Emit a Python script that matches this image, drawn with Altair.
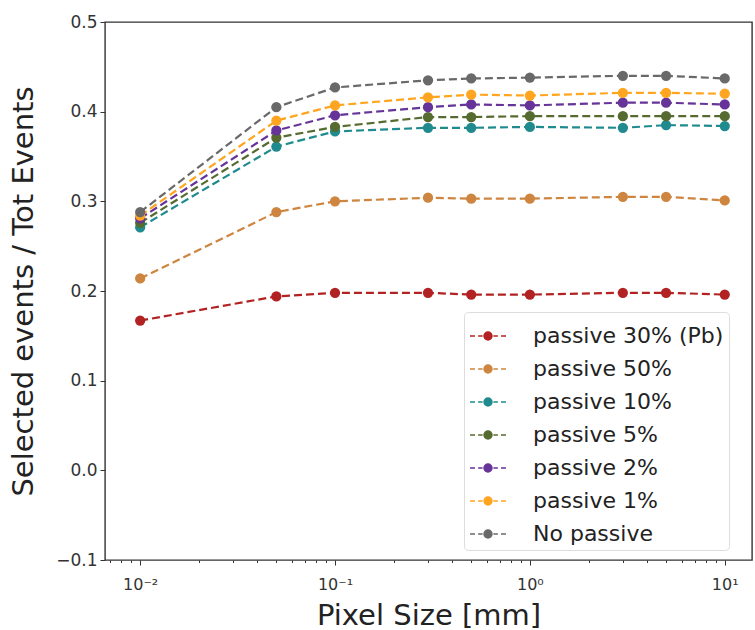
import altair as alt
import pandas as pd

pixel_size = [0.01, 0.05, 0.1, 0.3, 0.5, 1, 3, 5, 10]

series_names = ["passive 30% (Pb)", "passive 50%", "passive 10%", "passive 5%",
                "passive 2%", "passive 1%", "No passive"]
series_colors = ["#b22222", "#cd853f", "#1f8b8e", "#556b2f", "#663399", "#ffa51f", "#696969"]

p30_pb = [0.167, 0.194, 0.198, 0.198, 0.196, 0.196, 0.198, 0.198, 0.196]
p50 = [0.214, 0.288, 0.300, 0.304, 0.303, 0.303, 0.305, 0.305, 0.301]
p10 = [0.271, 0.361, 0.378, 0.382, 0.382, 0.383, 0.382, 0.385, 0.384]
p5 = [0.276, 0.371, 0.383, 0.394, 0.394, 0.395, 0.395, 0.395, 0.395]
p2 = [0.281, 0.379, 0.396, 0.405, 0.408, 0.407, 0.410, 0.410, 0.408]
p1 = [0.284, 0.390, 0.407, 0.416, 0.419, 0.418, 0.421, 0.421, 0.420]
no_passive = [0.288, 0.405, 0.427, 0.435, 0.437, 0.438, 0.440, 0.440, 0.437]

y_ticks = [-0.1, 0.0, 0.1, 0.2, 0.3, 0.4, 0.5]
x_ticks = [0.007, 0.008, 0.009,
           0.01, 0.02, 0.03, 0.04, 0.05, 0.06, 0.07, 0.08, 0.09,
           0.1, 0.2, 0.3, 0.4, 0.5, 0.6, 0.7, 0.8, 0.9,
           1, 2, 3, 4, 5, 6, 7, 8, 9, 10]

all_series = [p30_pb, p50, p10, p5, p2, p1, no_passive]
rows = []
for name, vals in zip(series_names, all_series):
    for x, y in zip(pixel_size, vals):
        rows.append({"series": name, "x": x, "y": y, "order": series_names.index(name)})
df = pd.DataFrame(rows)

major_test = "datum.value == 0.01 || datum.value == 0.1 || datum.value == 1 || datum.value == 10"
label_expr = ("datum.value == 0.01 ? '10⁻²' : datum.value == 0.1 ? '10⁻¹' : "
              "datum.value == 1 ? '10⁰' : datum.value == 10 ? '10¹' : ''")

x_enc = alt.X("x:Q",
              scale=alt.Scale(type="log", domain=[0.0066, 13.8], nice=False, zero=False),
              axis=alt.Axis(values=x_ticks, labelExpr=label_expr, title="Pixel Size [mm]",
                            tickSize={"condition": {"test": major_test, "value": 5}, "value": 2.5},
                            labelOverlap=False, labelFlush=False, grid=False,
                            titleFontSize=29, labelFontSize=16, labelPadding=11, titlePadding=9))
y_enc = alt.Y("y:Q",
              scale=alt.Scale(domain=[-0.1, 0.5], nice=False, zero=False),
              axis=alt.Axis(values=y_ticks, format=".1f", title="Selected events / Tot Events",
                            tickSize=5, grid=False, titleFontSize=29, labelFontSize=17,
                            labelPadding=3, titlePadding=17))

legend_path = ("M-1,0H-0.72M-0.55,0H-0.3M0.3,0H0.55M0.72,0H1"
               "M-0.22,0A0.22,0.22,0,1,1,0.22,0A0.22,0.22,0,1,1,-0.22,0Z")

color_enc = alt.Color("series:N",
                      scale=alt.Scale(domain=series_names, range=series_colors),
                      legend=alt.Legend(title=None, orient="none", legendX=359, legendY=290,
                                        symbolType=legend_path, symbolSize=1296,
                                        symbolStrokeWidth=1.5, labelFontSize=22,
                                        labelColor="#222", labelOffset=26, labelLimit=320,
                                        rowPadding=3, padding=5,
                                        strokeColor="#dddddd", fillColor="white",
                                        cornerRadius=4, symbolOpacity=1))

base = alt.Chart(df)
lines = base.mark_line(strokeDash=[8, 4], strokeWidth=2.2).encode(
    x=x_enc, y=y_enc, color=color_enc, detail="series:N")
points = base.mark_point(filled=True, size=105, opacity=1).encode(
    x=x_enc, y=y_enc, color=color_enc, order="order:Q")

chart = alt.layer(lines, points).properties(
    width=647, height=538,
    padding={"left": 105, "top": 22, "right": 3, "bottom": 70},
    autosize="none",
).configure_view(
    stroke="#333333", strokeWidth=1.4
).configure_axis(
    domain=False, labelFont="DejaVu Sans", titleFont="DejaVu Sans",
    labelColor="#333", titleColor="#222", tickColor="#333", titleFontWeight="normal"
).configure_legend(
    labelFont="DejaVu Sans"
)

chart.save("out.html", embed_options={"renderer": "svg", "actions": False})
